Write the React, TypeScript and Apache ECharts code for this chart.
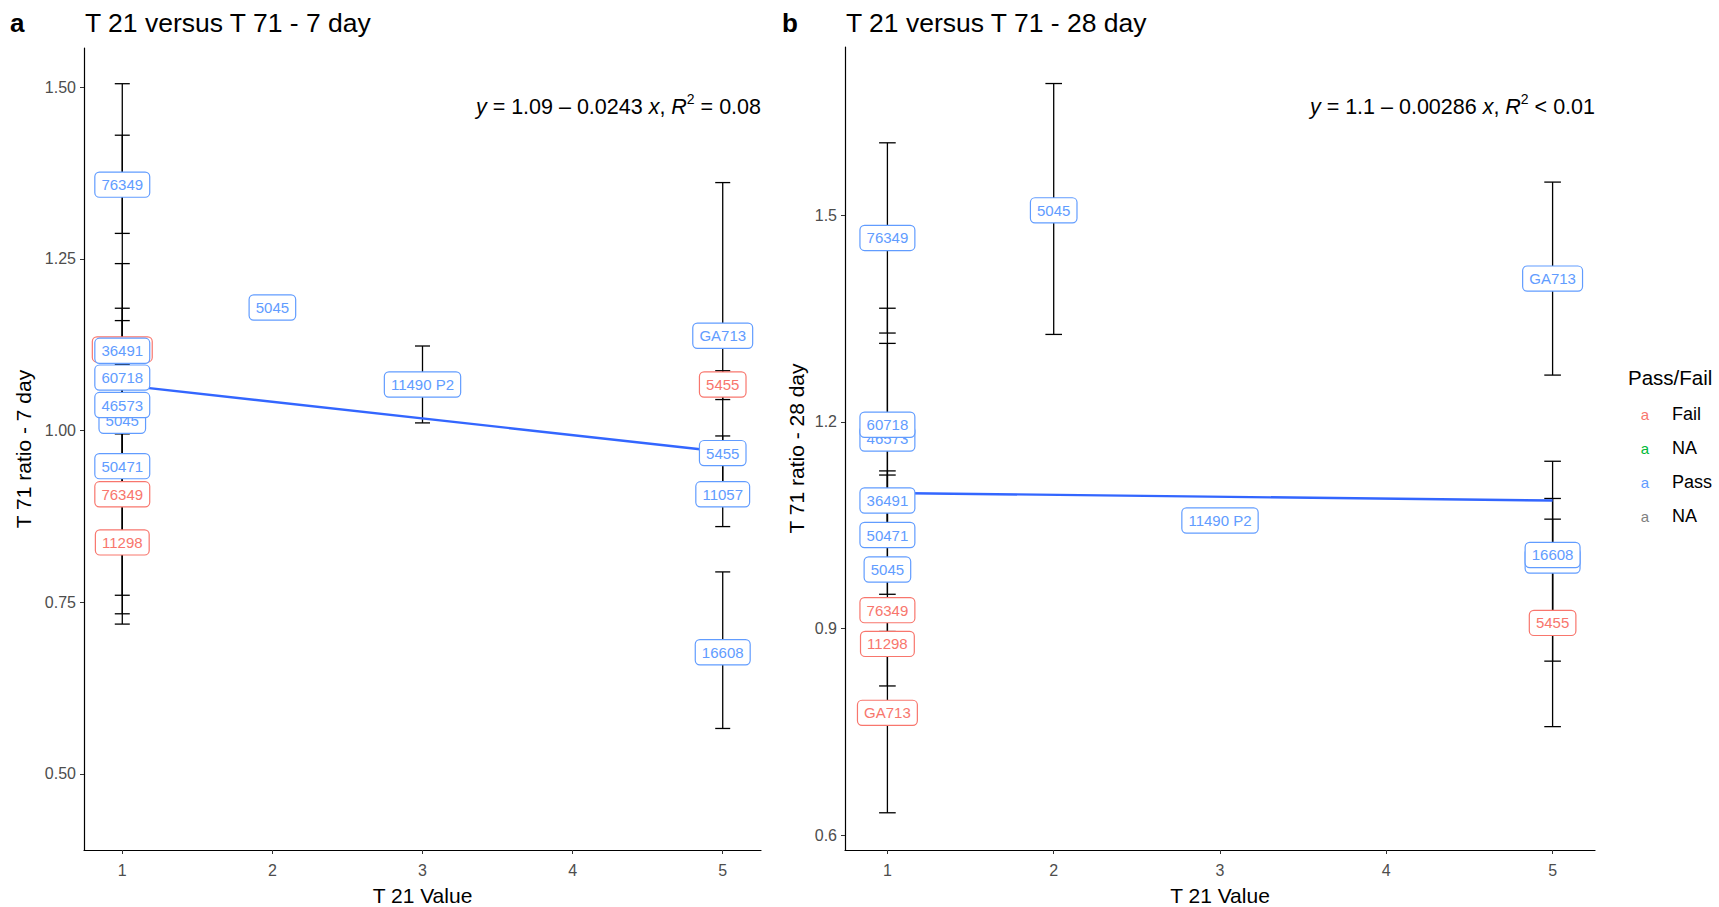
import React, { useEffect, useRef } from "react";
import * as echarts from "echarts";

// ---------- data ----------
const xTicks = [1, 2, 3, 4, 5];
const yTicksA = [0.5, 0.75, 1.0, 1.25, 1.5];
const yTicksB = [0.6, 0.9, 1.2, 1.5];

// Panel a (7 day)
const aName = ["GA713", "76349", "11298", "76349", "36491", "60718", "5045", "46573", "50471", "5045", "11490 P2", "5455", "GA713", "5455", "11057", "16608"];
const aGroup = ["Fail", "Fail", "Fail", "Pass", "Pass", "Pass", "Pass", "Pass", "Pass", "Pass", "Pass", "Fail", "Pass", "Pass", "Pass", "Pass"];
const aX = [1, 1, 1, 1, 1, 1, 1, 1, 1, 2, 3, 5, 5, 5, 5, 5];
const aY = [1.118, 0.907, 0.837, 1.358, 1.116, 1.077, 1.014, 1.037, 0.948, 1.179, 1.067, 1.067, 1.138, 0.967, 0.907, 0.677];
const aLo = [0.733, 0.718, 0.76, 1.287, 0.998, 0.995, 1.0, 0.896, 0.89, null, 1.011, 1.045, 0.915, 0.95, 0.86, 0.566];
const aHi = [1.505, 1.096, 0.914, 1.43, 1.243, 1.16, 1.028, 1.178, 1.006, null, 1.123, 1.087, 1.361, 0.992, 0.954, 0.794];
const aFitX = [1, 5];
const aFitY = [1.066, 0.969];

// Panel b (28 day)
const bName = ["76349", "11298", "GA713", "76349", "46573", "60718", "36491", "50471", "5045", "5045", "11490 P2", "5455", "GA713", "16608", "16608"];
const bGroup = ["Fail", "Fail", "Fail", "Pass", "Pass", "Pass", "Pass", "Pass", "Pass", "Pass", "Pass", "Fail", "Pass", "Pass", "Pass"];
const bX = [1, 1, 1, 1, 1, 1, 1, 1, 1, 2, 3, 5, 5, 5, 5];
const bY = [0.927, 0.878, 0.778, 1.467, 1.176, 1.196, 1.086, 1.036, 0.986, 1.507, 1.057, 0.9085, 1.408, 0.999, 1.007];
const bLo = [0.817, 0.86, 0.633, 1.329, 1.038, 1.027, 1.043, 0.95, 0.97, 1.327, null, 0.758, 1.268, 0.853, 0.925];
const bHi = [1.037, 0.896, 0.923, 1.605, 1.314, 1.365, 1.129, 1.123, 1.002, 1.691, null, 1.059, 1.548, 1.143, 1.089];
const bFitX = [1, 5];
const bFitY = [1.097, 1.086];

const legendLabels = ["Fail", "NA", "Pass", "NA"];
const legendColors = ["#F8766D", "#00BA38", "#619CFF", "#7F7F7F"];
const groupColor: Record<string, string> = { Fail: "#F8766D", Pass: "#619CFF" };

const FONT = "'Liberation Sans', Arial, Helvetica, sans-serif";

function errorData(x: number[], lo: (number | null)[], hi: (number | null)[]) {
  const out: number[][] = [];
  x.forEach((v, i) => {
    if (lo[i] != null && hi[i] != null) out.push([v, lo[i] as number, hi[i] as number]);
  });
  return out;
}

function renderErr(params: any, api: any) {
  const x = api.value(0);
  const lo = api.value(1);
  const hi = api.value(2);
  const pLo = api.coord([x, lo]);
  const pHi = api.coord([x, hi]);
  const half = api.size([0.1, 0])[0] / 2;
  const style = { stroke: "#000", lineWidth: 1.3 };
  return {
    type: "group",
    children: [
      { type: "line", shape: { x1: pLo[0], y1: pLo[1], x2: pHi[0], y2: pHi[1] }, style },
      { type: "line", shape: { x1: pLo[0] - half, y1: pLo[1], x2: pLo[0] + half, y2: pLo[1] }, style },
      { type: "line", shape: { x1: pHi[0] - half, y1: pHi[1], x2: pHi[0] + half, y2: pHi[1] }, style },
    ],
  };
}

function makeLabelRenderer(names: string[], groups: string[]) {
  return (params: any, api: any) => {
    const i = params.dataIndex;
    const p = api.coord([api.value(0), api.value(1)]);
    const c = groupColor[groups[i]];
    return {
      type: "text",
      x: p[0],
      y: p[1],
      z2: 10 + i,
      style: {
        text: names[i],
        fill: c,
        align: "center",
        verticalAlign: "middle",
        fontSize: 15,
        fontFamily: FONT,
        backgroundColor: "#fff",
        borderColor: c,
        borderWidth: 1.2,
        borderRadius: 4,
        padding: [5, 6, 4, 6],
      },
    };
  };
}

function xAxisDef(gridIndex: number) {
  return {
    type: "value",
    gridIndex,
    min: 0.745,
    max: 5.255,
    name: "T 21 Value",
    nameLocation: "middle",
    nameGap: 35,
    nameTextStyle: { fontSize: 21, color: "#000", fontFamily: FONT },
    splitLine: { show: false },
    axisLine: { onZero: false, lineStyle: { color: "#000", width: 1.2 } },
    axisTick: { length: 4, lineStyle: { color: "#333" }, customValues: xTicks },
    axisLabel: { fontSize: 16, color: "#4D4D4D", margin: 12, fontFamily: FONT, customValues: xTicks, formatter: (v: number) => String(v) },
  };
}

function yAxisDef(gridIndex: number, min: number, max: number, ticks: number[], digits: number, name: string, gap: number) {
  return {
    type: "value",
    gridIndex,
    min,
    max,
    name,
    nameLocation: "middle",
    nameGap: gap,
    nameTextStyle: { fontSize: 21, color: "#000", fontFamily: FONT },
    splitLine: { show: false },
    axisLine: { onZero: false, lineStyle: { color: "#000", width: 1.2 } },
    axisTick: { length: 4, lineStyle: { color: "#333" }, customValues: ticks },
    axisLabel: { fontSize: 16, color: "#4D4D4D", margin: 8, fontFamily: FONT, customValues: ticks, formatter: (v: number) => v.toFixed(digits) },
  };
}

function eqText(x: number, y: number, text: string) {
  return {
    type: "text",
    x,
    y,
    style: {
      text,
      align: "right",
      verticalAlign: "middle",
      fontSize: 21.5,
      fontFamily: FONT,
      fill: "#000",
      rich: {
        i: { fontStyle: "italic", fontSize: 21.5, fontFamily: FONT, lineHeight: 26, verticalAlign: "bottom" },
        n: { fontSize: 21.5, fontFamily: FONT, lineHeight: 26, verticalAlign: "bottom" },
        s: { fontSize: 14, fontFamily: FONT, lineHeight: 26, verticalAlign: "top" },
      },
    },
  };
}

export default function App() {
  const ref = useRef<HTMLDivElement>(null);
  useEffect(() => {
    if (!ref.current) return;
    const chart = echarts.init(ref.current, null, { renderer: "svg" });
    const graphic: any[] = [
      { type: "text", x: 10, y: 23, style: { text: "a", fontSize: 26, fontWeight: "bold", fontFamily: FONT, fill: "#000", verticalAlign: "middle" } },
      { type: "text", x: 85, y: 23, style: { text: "T 21 versus T 71 - 7 day", fontSize: 26.5, fontFamily: FONT, fill: "#000", verticalAlign: "middle" } },
      { type: "text", x: 782, y: 23, style: { text: "b", fontSize: 26, fontWeight: "bold", fontFamily: FONT, fill: "#000", verticalAlign: "middle" } },
      { type: "text", x: 846, y: 23, style: { text: "T 21 versus T 71 - 28 day", fontSize: 26.5, fontFamily: FONT, fill: "#000", verticalAlign: "middle" } },
      eqText(761, 105, "{i|y}{n| = 1.09 – 0.0243 }{i|x}{n|, }{i|R}{s|2}{n| = 0.08}"),
      eqText(1595, 105, "{i|y}{n| = 1.1 – 0.00286 }{i|x}{n|, }{i|R}{s|2}{n| < 0.01}"),
      { type: "text", x: 1628, y: 377, style: { text: "Pass/Fail", fontSize: 20.5, fontFamily: FONT, fill: "#000", verticalAlign: "middle" } },
    ];
    legendLabels.forEach((lab, i) => {
      const y = 414 + i * 34;
      graphic.push({ type: "text", x: 1645, y, style: { text: "a", fontSize: 15, fontFamily: FONT, fill: legendColors[i], align: "center", verticalAlign: "middle" } });
      graphic.push({ type: "text", x: 1672, y, style: { text: lab, fontSize: 18, fontFamily: FONT, fill: "#000", verticalAlign: "middle" } });
    });

    const option: any = {
      animation: false,
      backgroundColor: "#fff",
      textStyle: { fontFamily: FONT },
      grid: [
        { left: 84, top: 48, width: 677, height: 802, outerBoundsMode: "none", containLabel: false },
        { left: 845, top: 47, width: 750, height: 803, outerBoundsMode: "none", containLabel: false },
      ],
      xAxis: [xAxisDef(0), xAxisDef(1)],
      yAxis: [
        yAxisDef(0, 0.389, 1.557, yTicksA, 2, "T 71 ratio - 7 day", 50),
        yAxisDef(1, 0.579, 1.744, yTicksB, 1, "T 71 ratio - 28 day", 38),
      ],
      graphic,
      series: [
        { type: "custom", xAxisIndex: 0, yAxisIndex: 0, renderItem: renderErr, data: errorData(aX, aLo, aHi), z: 1, silent: true },
        { type: "custom", xAxisIndex: 1, yAxisIndex: 1, renderItem: renderErr, data: errorData(bX, bLo, bHi), z: 1, silent: true },
        { type: "line", xAxisIndex: 0, yAxisIndex: 0, data: aFitX.map((x, i) => [x, aFitY[i]]), symbol: "none", lineStyle: { color: "#3366FF", width: 2.4 }, z: 2 },
        { type: "line", xAxisIndex: 1, yAxisIndex: 1, data: bFitX.map((x, i) => [x, bFitY[i]]), symbol: "none", lineStyle: { color: "#3366FF", width: 2.4 }, z: 2 },
        { type: "custom", xAxisIndex: 0, yAxisIndex: 0, renderItem: makeLabelRenderer(aName, aGroup), data: aX.map((x, i) => [x, aY[i]]), z: 5, silent: true },
        { type: "custom", xAxisIndex: 1, yAxisIndex: 1, renderItem: makeLabelRenderer(bName, bGroup), data: bX.map((x, i) => [x, bY[i]]), z: 5, silent: true },
      ],
    };
    chart.setOption(option);
    return () => chart.dispose();
  }, []);
  return <div ref={ref} style={{ position: "fixed", left: 0, top: 0, width: 1719, height: 907, background: "#fff" }} />;
}
